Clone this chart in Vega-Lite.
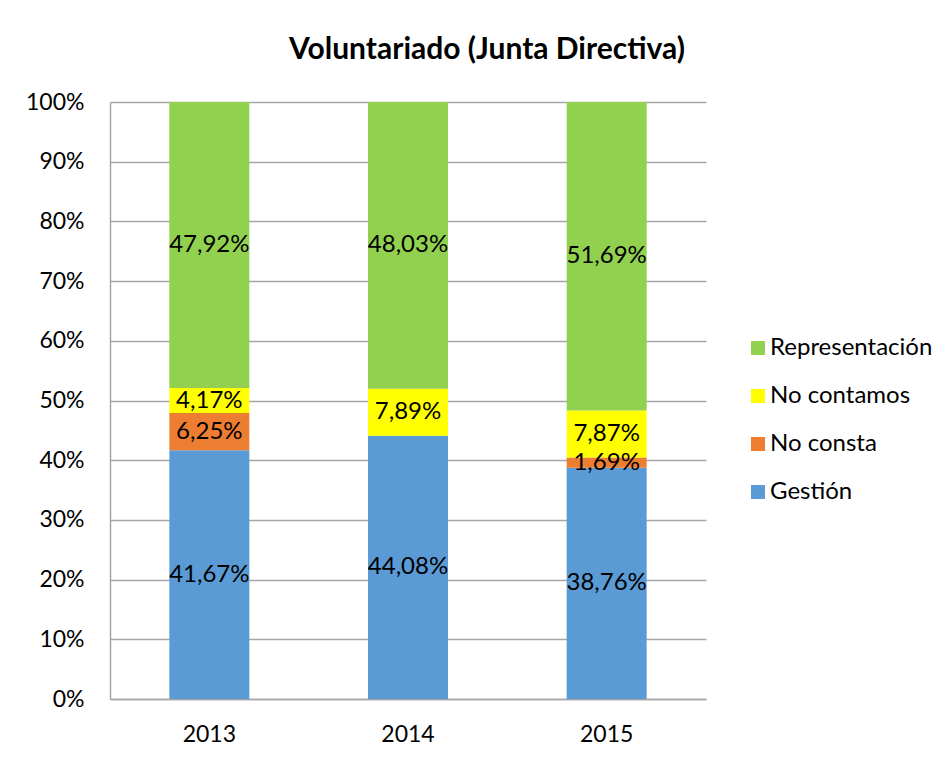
{
  "$schema": "https://vega.github.io/schema/vega-lite/v6.json",
  "autosize": "none",
  "width": 596,
  "height": 597,
  "padding": {"left": 110, "top": 102, "right": 246, "bottom": 59},
  "background": "white",
  "title": {
    "text": "Voluntariado (Junta Directiva)",
    "font": "Lato",
    "fontSize": 30,
    "fontWeight": "bold",
    "color": "#000000",
    "anchor": "middle",
    "frame": "group",
    "dx": 79,
    "offset": 26
  },
  "data": {
    "values": [
      {"year": "2013", "serie": "Gestión", "order": 1, "value": 41.67},
      {"year": "2013", "serie": "No consta", "order": 2, "value": 6.25},
      {"year": "2013", "serie": "No contamos", "order": 3, "value": 4.17},
      {"year": "2013", "serie": "Representación", "order": 4, "value": 47.92},
      {"year": "2014", "serie": "Gestión", "order": 1, "value": 44.08},
      {"year": "2014", "serie": "No contamos", "order": 3, "value": 7.89},
      {"year": "2014", "serie": "Representación", "order": 4, "value": 48.03},
      {"year": "2015", "serie": "Gestión", "order": 1, "value": 38.76},
      {"year": "2015", "serie": "No consta", "order": 2, "value": 1.69},
      {"year": "2015", "serie": "No contamos", "order": 3, "value": 7.87},
      {"year": "2015", "serie": "Representación", "order": 4, "value": 51.69}
    ]
  },
  "transform": [
    {"stack": "value", "groupby": ["year"], "sort": [{"field": "order"}], "as": ["y0", "y1"], "offset": "normalize"},
    {"calculate": "(datum.y0 + datum.y1) / 2", "as": "mid"},
    {"calculate": "replace(format(datum.value, '.2f'), '.', ',') + '%'", "as": "label"}
  ],
  "encoding": {
    "x": {
      "field": "year",
      "type": "nominal",
      "scale": {"paddingInner": 0, "paddingOuter": 0},
      "axis": {
        "title": null,
        "labelAngle": 0,
        "labelFont": "Lato",
        "labelFontSize": 23,
        "labelColor": "#000000",
        "labelPadding": 24,
        "ticks": false,
        "domainColor": "#A6A6A6",
        "domainWidth": 1.5
      }
    }
  },
  "layer": [
    {
      "mark": {"type": "bar", "width": 80},
      "encoding": {
        "y": {
          "field": "y0",
          "type": "quantitative",
          "scale": {"domain": [0, 1]},
          "axis": {
            "title": null,
            "values": [0, 0.1, 0.2, 0.3, 0.4, 0.5, 0.6, 0.7, 0.8, 0.9, 1],
            "format": ".0%",
            "labelFont": "Lato",
            "labelFontSize": 23,
            "labelColor": "#000000",
            "labelPadding": 26,
            "ticks": false,
            "grid": true,
            "gridColor": "#A6A6A6",
            "gridWidth": 1.5,
            "domainColor": "#A6A6A6",
            "domainWidth": 1.5
          }
        },
        "y2": {"field": "y1"},
        "color": {
          "field": "serie",
          "type": "nominal",
          "scale": {
            "domain": ["Representación", "No contamos", "No consta", "Gestión"],
            "range": ["#92D050", "#FFFF00", "#ED7D31", "#5B9BD5"]
          },
          "legend": {
            "title": null,
            "orient": "none",
            "legendX": 636,
            "legendY": 234,
            "padding": 0,
            "symbolType": "square",
            "symbolSize": 196,
            "symbolStrokeWidth": 0,
            "labelFont": "Lato",
            "labelFontSize": 24,
            "labelColor": "#000000",
            "labelOffset": 0,
            "labelLimit": 400,
            "rowPadding": 24
          }
        }
      }
    },
    {
      "mark": {"type": "text", "font": "Lato", "fontSize": 24, "color": "#000000", "baseline": "middle", "align": "center"},
      "encoding": {
        "y": {"field": "mid", "type": "quantitative"},
        "text": {"field": "label"}
      }
    }
  ],
  "config": {
    "view": {"stroke": null}
  }
}
